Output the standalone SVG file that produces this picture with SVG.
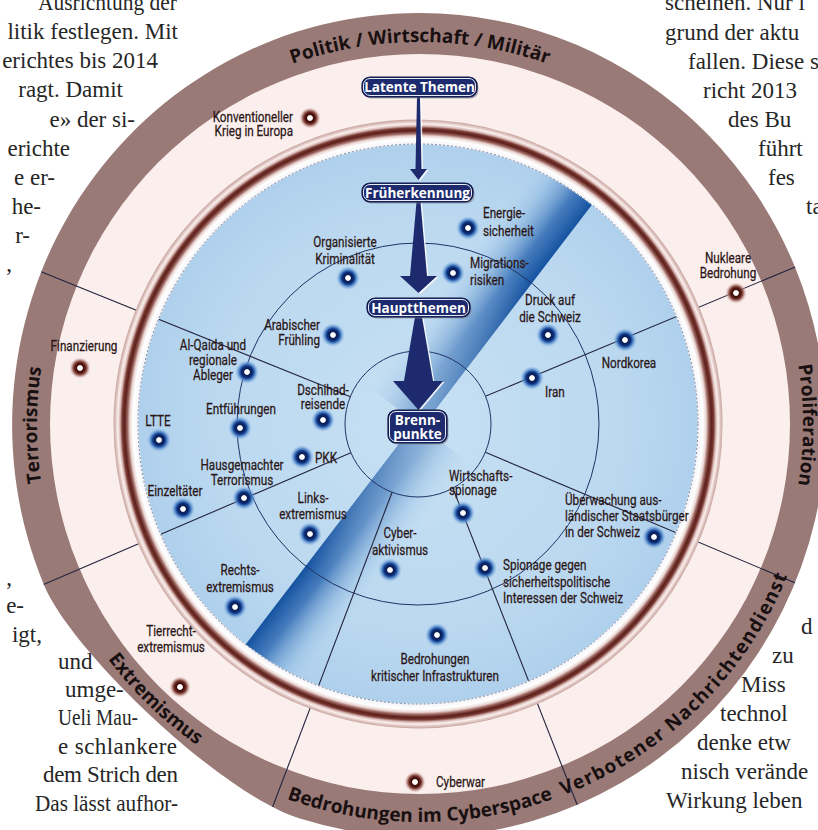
<svg xmlns="http://www.w3.org/2000/svg" xmlns:xlink="http://www.w3.org/1999/xlink" width="818" height="830" viewBox="0 0 818 830">
<style>
.body{font-family:"Liberation Serif","Times New Roman",serif;font-size:23px;fill:#262626}
.ring{font-family:"Open Sans","DejaVu Sans",sans-serif;font-weight:700;font-size:19px;fill:#181010}
.lb{font-family:Roboto,"Liberation Sans",sans-serif;font-size:15px;fill:#2a1616;stroke:#2a1616;stroke-width:0.25}
.c{text-anchor:middle}
.e{text-anchor:end}
.bx{font-family:"Open Sans","DejaVu Sans",sans-serif;font-weight:700;font-size:13.5px;fill:#ffffff;text-anchor:middle}
.boxr{fill:#1d2b6e;stroke:#0e1745;stroke-width:1.2}
.boxi{fill:none;stroke:#e6ecf6;stroke-width:1}
.arr{fill:#1d2b6e}
.arrh{fill:#ffffff;opacity:.85}
.sl{stroke:#24243e;stroke-width:1.1;fill:none}
.ci{stroke:#1f3466;stroke-width:1;fill:none}
</style>
<defs>
<radialGradient id="gB">
<stop offset="0" stop-color="#ffffff"/>
<stop offset="0.2" stop-color="#ffffff"/>
<stop offset="0.27" stop-color="#081a52"/>
<stop offset="0.48" stop-color="#0f2f78"/>
<stop offset="0.6" stop-color="#2d62b0"/>
<stop offset="0.78" stop-color="#5c90cf" stop-opacity="0.6"/>
<stop offset="1" stop-color="#9cc3e6" stop-opacity="0"/>
</radialGradient>
<radialGradient id="gR">
<stop offset="0" stop-color="#ffffff"/>
<stop offset="0.22" stop-color="#ffffff"/>
<stop offset="0.3" stop-color="#3a0a06"/>
<stop offset="0.5" stop-color="#5e1f19"/>
<stop offset="0.65" stop-color="#8e4f49" stop-opacity="0.9"/>
<stop offset="0.82" stop-color="#c59b96" stop-opacity="0.5"/>
<stop offset="1" stop-color="#f0dcda" stop-opacity="0"/>
</radialGradient>
<circle id="dotB" r="12" fill="url(#gB)"/>
<circle id="dotR" r="11" fill="url(#gR)"/>
<radialGradient id="blueG" gradientUnits="userSpaceOnUse" cx="418" cy="424" r="280">
<stop offset="0" stop-color="#c6e0f3"/>
<stop offset="0.7" stop-color="#bcd9f0"/>
<stop offset="1" stop-color="#afd0ec"/>
</radialGradient>
<radialGradient id="rimG" gradientUnits="userSpaceOnUse" cx="418" cy="424" r="305">
<stop offset="0.918" stop-color="#f4f4f8"/>
<stop offset="0.935" stop-color="#ffffff"/>
<stop offset="0.945" stop-color="#e9d6d3"/>
<stop offset="0.953" stop-color="#9c645e"/>
<stop offset="0.962" stop-color="#5c1f1a"/>
<stop offset="0.970" stop-color="#7a3a34"/>
<stop offset="0.977" stop-color="#d7b8b4"/>
<stop offset="0.984" stop-color="#fbf0ee"/>
<stop offset="0.993" stop-color="#d9bdb9"/>
<stop offset="1" stop-color="#c39c97"/>
</radialGradient>
<linearGradient id="stU" x1="1" y1="0" x2="0" y2="0">
<stop offset="0" stop-color="#1552a0"/>
<stop offset="0.3" stop-color="#2a66b0" stop-opacity="0.8"/>
<stop offset="0.7" stop-color="#7aaadb" stop-opacity="0.3"/>
<stop offset="1" stop-color="#bcd9f0" stop-opacity="0"/>
</linearGradient>
<linearGradient id="stL" x1="0" y1="0" x2="1" y2="0">
<stop offset="0" stop-color="#1552a0"/>
<stop offset="0.3" stop-color="#2a66b0" stop-opacity="0.8"/>
<stop offset="0.7" stop-color="#7aaadb" stop-opacity="0.3"/>
<stop offset="1" stop-color="#bcd9f0" stop-opacity="0"/>
</linearGradient>
<linearGradient id="ovU" x1="0" y1="1" x2="0" y2="0">
<stop offset="0" stop-color="#c4def2" stop-opacity="0.6"/>
<stop offset="0.6" stop-color="#c4def2" stop-opacity="0"/>
</linearGradient>
<linearGradient id="ovL" x1="0" y1="0" x2="0" y2="1">
<stop offset="0" stop-color="#c4def2" stop-opacity="0.6"/>
<stop offset="0.6" stop-color="#c4def2" stop-opacity="0"/>
</linearGradient>
<path id="outerShape" d="M420,13 A406,412 0 0 1 826,425 A406,412 0 0 1 300,818.6 C218.9,793.1 70.7,649.8 44,585 A406,412 0 0 1 420,13 Z"/>
<clipPath id="blueClip"><circle cx="418" cy="424" r="280"/></clipPath>
<clipPath id="outerClip"><use href="#outerShape"/></clipPath>
<path id="pPol" d="M88.3,233.5 A383,383 0 0 1 751.7,233.5"/>
<path id="pPro" d="M611.5,93.3 A383,383 0 0 1 611.5,756.7"/>
<path id="pTer" d="M228.5,756.7 A383,383 0 0 1 228.5,93.3"/>
<path id="pExt" d="M30.9,397.8 A390,390 0 0 0 460.8,812.9"/>
<path id="pCyb" d="M76.2,623.5 A397,397 0 0 0 763.8,623.5"/>
<path id="pVer" d="M313.9,807.6 A397,397 0 0 0 804.4,325.6"/>
</defs>

<rect width="818" height="830" fill="#ffffff"/>

<g id="body-text" class="body">
<text x="38" y="10" textLength="139" lengthAdjust="spacingAndGlyphs">Ausrichtung der</text>
<text class="e" x="178" y="39">litik festlegen. Mit</text>
<text class="e" x="158" y="68">erichtes bis 2014</text>
<text class="e" x="123" y="97">ragt. Damit</text>
<text class="e" x="135" y="127">e» der si-</text>
<text class="e" x="70" y="156">erichte</text>
<text class="e" x="55" y="185">e er-</text>
<text class="e" x="41" y="214">he-</text>
<text class="e" x="30" y="243">r-</text>
<text class="e" x="12" y="271">,</text>
<text class="e" x="12" y="585">,</text>
<text class="e" x="24" y="613">e-</text>
<text class="e" x="42" y="642">igt,</text>
<text x="58" y="669">und</text>
<text x="65" y="697">umge-</text>
<text x="58" y="725" textLength="80" lengthAdjust="spacingAndGlyphs">Ueli Mau-</text>
<text x="58" y="754" textLength="119">e schlankere</text>
<text x="43" y="782" textLength="135">dem Strich den</text>
<text x="35" y="811" textLength="143" lengthAdjust="spacingAndGlyphs">Das lässt aufhor-</text>
<text x="665" y="10">scheinen. Nur i</text>
<text x="665" y="40">grund der aktu</text>
<text x="688" y="69">fallen. Diese s</text>
<text x="703" y="98">richt 2013</text>
<text x="728" y="127">des Bu</text>
<text x="758" y="156">führt</text>
<text x="768" y="185">fes</text>
<text x="806" y="214">ta</text>
<text x="801" y="634">d</text>
<text x="772" y="663">zu</text>
<text x="741" y="692">Miss</text>
<text x="720" y="721">technol</text>
<text x="697" y="750">denke etw</text>
<text x="681" y="779">nisch verände</text>
<text x="666" y="808">Wirkung leben</text>
</g>

<g id="ring">
<use href="#outerShape" fill="#9a7a77"/>
<circle cx="420" cy="424" r="370" fill="#fbefed"/>
<circle cx="418" cy="424" r="280" fill="url(#blueG)"/>
<g clip-path="url(#blueClip)">
<g transform="translate(418,424) rotate(37.4)">
<rect x="-66" y="-300" width="71" height="300" fill="url(#stU)"/>
<rect x="-66" y="-300" width="71" height="300" fill="url(#ovU)"/>
<rect x="-3" y="0" width="70" height="300" fill="url(#stL)"/>
<rect x="-3" y="0" width="70" height="300" fill="url(#ovL)"/>
</g>
</g>
</g>

<g id="sector-lines" clip-path="url(#outerClip)">
<circle class="ci" cx="418" cy="424" r="73"/>
<circle class="ci" cx="418" cy="424" r="181"/>
<line class="sl" x1="350.3" y1="396.7" x2="30" y2="267.3"/>
<line class="sl" x1="350.9" y1="452.8" x2="33" y2="589"/>
<line class="sl" x1="392.1" y1="492.2" x2="265" y2="827"/>
<line class="sl" x1="452.8" y1="488" x2="580" y2="812"/>
<line class="sl" x1="485.3" y1="452.3" x2="805" y2="587"/>
<line class="sl" x1="486" y1="396" x2="806" y2="262.5"/>
</g>

<g id="rim">
<circle cx="418" cy="424" r="292" fill="none" stroke="url(#rimG)" stroke-width="25"/>
<circle cx="418" cy="424" r="280" fill="none" stroke="#5d6c8c" stroke-width="0.8" stroke-dasharray="2 2"/>
</g>

<g id="ring-labels" class="ring">
<text><textPath href="#pPol" startOffset="50%" text-anchor="middle">Politik / Wirtschaft / Militär</textPath></text>
<text><textPath href="#pPro" startOffset="50%" text-anchor="middle">Proliferation</textPath></text>
<text><textPath href="#pTer" startOffset="50%" text-anchor="middle">Terrorismus</textPath></text>
<text><textPath href="#pExt" startOffset="50%" text-anchor="middle">Extremismus</textPath></text>
<text><textPath href="#pCyb" startOffset="50%" text-anchor="middle">Bedrohungen im Cyberspace</textPath></text>
<text letter-spacing="1.2"><textPath href="#pVer" startOffset="50%" text-anchor="middle">Verbotener Nachrichtendienst</textPath></text>
</g>

<g id="connectors">
<g transform="translate(1.5,1)">
<polygon class="arrh" points="417,97 420,97 421.5,169 427,169 418.5,180 410,169 415.5,169"/>
<polygon class="arrh" points="416.5,202 420.5,202 427,276 437,276 418.5,293 400,276 410,276"/>
<polygon class="arrh" points="415,317 422,317 433,381 443,381 418.5,410 393,381 404,381"/>
</g>
<polygon class="arr" points="417,97 420,97 421.5,169 427,169 418.5,180 410,169 415.5,169"/>
<polygon class="arr" points="416.5,202 420.5,202 427,276 437,276 418.5,293 400,276 410,276"/>
<polygon class="arr" points="415,317 422,317 433,381 443,381 418.5,410 393,381 404,381"/>
</g>

<g id="box-latente">
<rect x="363.5" y="78.5" width="115" height="20" rx="8" fill="#7d7f95" opacity="0.6"/>
<rect class="boxr" x="362" y="77" width="115" height="20" rx="8"/>
<rect class="boxi" x="363.5" y="78.5" width="112" height="17" rx="6.5"/>
<text class="bx" x="419.5" y="92">Latente Themen</text>
</g>
<g id="box-frueherkennung">
<rect x="363.5" y="184.5" width="111" height="19" rx="8" fill="#7d7f95" opacity="0.6"/>
<rect class="boxr" x="362" y="183" width="111" height="19" rx="8"/>
<rect class="boxi" x="363.5" y="184.5" width="108" height="16" rx="6.5"/>
<text class="bx" x="417.5" y="197.5">Früherkennung</text>
</g>
<g id="box-hauptthemen">
<rect x="368.5" y="299.5" width="103" height="19" rx="8" fill="#7d7f95" opacity="0.6"/>
<rect class="boxr" x="367" y="298" width="103" height="19" rx="8"/>
<rect class="boxi" x="368.5" y="299.5" width="100" height="16" rx="6.5"/>
<text class="bx" x="418.5" y="312.5">Hauptthemen</text>
</g>
<g id="box-brennpunkte">
<rect x="389.5" y="411.5" width="59" height="33" rx="8" fill="#7d7f95" opacity="0.6"/>
<rect class="boxr" x="388" y="410" width="59" height="33" rx="8"/>
<rect class="boxi" x="389.5" y="411.5" width="56" height="30" rx="6.5"/>
<text class="bx" x="417.5" y="424.5">Brenn-</text>
<text class="bx" x="417.5" y="439">punkte</text>
</g>

<g id="n-energie"><use href="#dotB" x="468" y="228"/><text class="lb" transform="translate(483,218) scale(0.78,1)">Energie-</text><text class="lb" transform="translate(483,236) scale(0.78,1)">sicherheit</text></g>
<g id="n-migration"><use href="#dotB" x="453" y="273"/><text class="lb" transform="translate(470,268) scale(0.78,1)">Migrations-</text><text class="lb" transform="translate(470,285) scale(0.78,1)">risiken</text></g>
<g id="n-orgkrim"><use href="#dotB" x="348" y="278"/><text class="lb c" transform="translate(345,247) scale(0.78,1)">Organisierte</text><text class="lb c" transform="translate(345,264) scale(0.78,1)">Kriminalität</text></g>
<g id="n-arab"><use href="#dotB" x="333" y="335"/><text class="lb e" transform="translate(320,330) scale(0.78,1)">Arabischer</text><text class="lb e" transform="translate(320,345) scale(0.78,1)">Frühling</text></g>
<g id="n-alqaida"><use href="#dotB" x="247" y="372"/><text class="lb c" transform="translate(213,350) scale(0.78,1)">Al-Qaida und</text><text class="lb c" transform="translate(213,365) scale(0.78,1)">regionale</text><text class="lb c" transform="translate(213,380) scale(0.78,1)">Ableger</text></g>
<g id="n-dschihad"><use href="#dotB" x="323" y="420"/><text class="lb c" transform="translate(323,395) scale(0.78,1)">Dschihad-</text><text class="lb c" transform="translate(323,409) scale(0.78,1)">reisende</text></g>
<g id="n-entfuehrung"><use href="#dotB" x="240" y="428"/><text class="lb c" transform="translate(241,414) scale(0.78,1)">Entführungen</text></g>
<g id="n-ltte"><use href="#dotB" x="159" y="440"/><text class="lb c" transform="translate(158,426) scale(0.78,1)">LTTE</text></g>
<g id="n-pkk"><use href="#dotB" x="302" y="457"/><text class="lb" transform="translate(315,463) scale(0.78,1)">PKK</text></g>
<g id="n-hausgemacht"><use href="#dotB" x="244" y="498"/><text class="lb c" transform="translate(242,470) scale(0.78,1)">Hausgemachter</text><text class="lb c" transform="translate(242,485) scale(0.78,1)">Terrorismus</text></g>
<g id="n-einzeltaeter"><use href="#dotB" x="183" y="509"/><text class="lb c" transform="translate(175,496) scale(0.78,1)">Einzeltäter</text></g>
<g id="n-links"><use href="#dotB" x="310" y="534"/><text class="lb c" transform="translate(313,503) scale(0.78,1)">Links-</text><text class="lb c" transform="translate(313,519) scale(0.78,1)">extremismus</text></g>
<g id="n-cyberakt"><use href="#dotB" x="390" y="570"/><text class="lb c" transform="translate(400,538) scale(0.78,1)">Cyber-</text><text class="lb c" transform="translate(400,555) scale(0.78,1)">aktivismus</text></g>
<g id="n-rechts"><use href="#dotB" x="235" y="607"/><text class="lb c" transform="translate(240,575) scale(0.78,1)">Rechts-</text><text class="lb c" transform="translate(240,592) scale(0.78,1)">extremismus</text></g>
<g id="n-wirtschaft"><use href="#dotB" x="463" y="513"/><text class="lb" transform="translate(449,481) scale(0.78,1)">Wirtschafts-</text><text class="lb" transform="translate(449,495) scale(0.78,1)">spionage</text></g>
<g id="n-spionage"><use href="#dotB" x="485" y="568"/><text class="lb" transform="translate(503,570) scale(0.78,1)">Spionage gegen</text><text class="lb" transform="translate(503,587) scale(0.78,1)">sicherheitspolitische</text><text class="lb" transform="translate(503,603) scale(0.78,1)">Interessen der Schweiz</text></g>
<g id="n-infra"><use href="#dotB" x="437" y="635"/><text class="lb c" transform="translate(435,664) scale(0.78,1)">Bedrohungen</text><text class="lb c" transform="translate(435,681) scale(0.78,1)">kritischer Infrastrukturen</text></g>
<g id="n-druck"><use href="#dotB" x="548" y="335"/><text class="lb c" transform="translate(550,305) scale(0.78,1)">Druck auf</text><text class="lb c" transform="translate(550,322) scale(0.78,1)">die Schweiz</text></g>
<g id="n-iran"><use href="#dotB" x="532" y="378"/><text class="lb" transform="translate(545,397) scale(0.78,1)">Iran</text></g>
<g id="n-nordkorea"><use href="#dotB" x="625" y="340"/><text class="lb c" transform="translate(629,368) scale(0.78,1)">Nordkorea</text></g>
<g id="n-ueberwachung"><use href="#dotB" x="654" y="537"/><text class="lb" transform="translate(565,505) scale(0.78,1)">Überwachung aus-</text><text class="lb" transform="translate(565,521) scale(0.78,1)">ländischer Staatsbürger</text><text class="lb" transform="translate(565,537) scale(0.78,1)">in der Schweiz</text></g>

<g id="n-konvkrieg"><use href="#dotR" x="310" y="118"/><text class="lb e" transform="translate(293,122) scale(0.78,1)">Konventioneller</text><text class="lb e" transform="translate(293,136) scale(0.78,1)">Krieg in Europa</text></g>
<g id="n-finanzierung"><use href="#dotR" x="80" y="368"/><text class="lb c" transform="translate(84,351) scale(0.78,1)">Finanzierung</text></g>
<g id="n-nuklear"><use href="#dotR" x="736" y="293"/><text class="lb c" transform="translate(728,263) scale(0.78,1)">Nukleare</text><text class="lb c" transform="translate(728,278) scale(0.78,1)">Bedrohung</text></g>
<g id="n-tierrecht"><use href="#dotR" x="180" y="687"/><text class="lb c" transform="translate(171,636) scale(0.78,1)">Tierrecht-</text><text class="lb c" transform="translate(171,652) scale(0.78,1)">extremismus</text></g>
<g id="n-cyberwar"><use href="#dotR" x="415" y="782"/><text class="lb" transform="translate(436,787) scale(0.78,1)">Cyberwar</text></g>
</svg>
